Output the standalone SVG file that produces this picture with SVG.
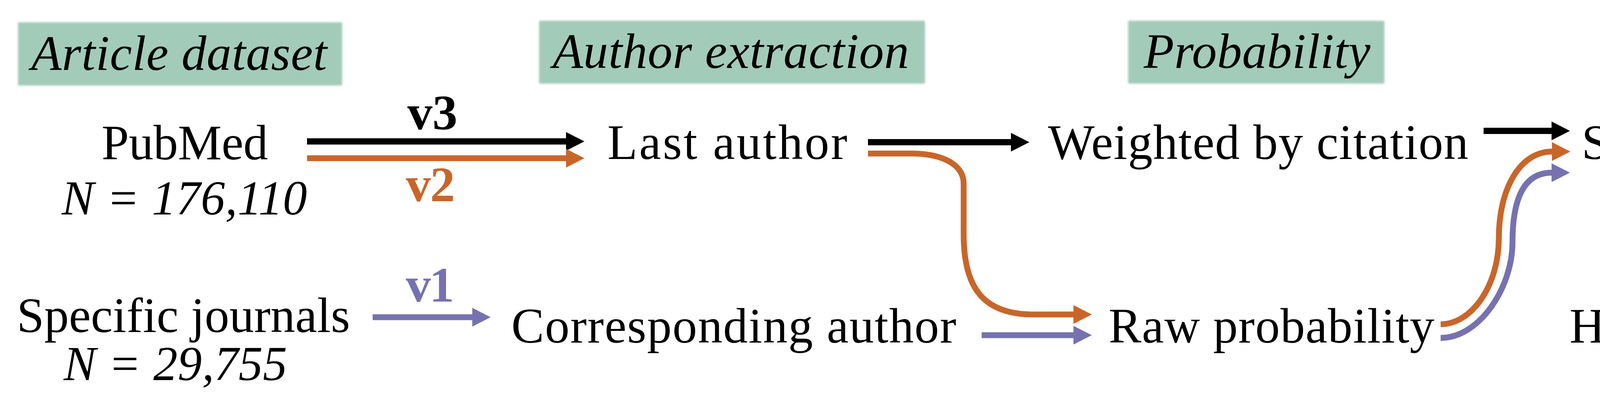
<svg xmlns="http://www.w3.org/2000/svg" width="4874" height="1070" viewBox="0 0 4874 1070">
<style>
.hdr{fill:#A3CBBA;filter:url(#soft)}
.ht{font-family:"Liberation Serif","Times New Roman",serif;font-style:italic;font-size:127px;fill:#000}
.t{font-family:"Liberation Serif","Times New Roman",serif;font-size:126px;fill:#000}
.n{font-family:"Liberation Serif","Times New Roman",serif;font-style:italic;font-size:124px;fill:#000}
.lb{font-family:"Liberation Serif","Times New Roman",serif;font-weight:bold;font-size:128px}
.k{fill:none;stroke:#000;stroke-width:16}
.o{fill:none;stroke:#C8662A;stroke-width:15}
.p{fill:none;stroke:#7672AF;stroke-width:15}
</style>
<defs>
<filter id="soft" x="-5%" y="-10%" width="110%" height="120%"><feGaussianBlur stdDeviation="2.5"/></filter>
<marker id="mk" markerUnits="userSpaceOnUse" viewBox="0 0 47 48" refX="0" refY="24" markerWidth="47" markerHeight="48" orient="auto"><polygon points="0,0 47,24 0,48" fill="#000"/></marker>
<marker id="mo" markerUnits="userSpaceOnUse" viewBox="0 0 47 48" refX="0" refY="24" markerWidth="47" markerHeight="48" orient="auto"><polygon points="0,0 47,24 0,48" fill="#C8662A"/></marker>
<marker id="mp" markerUnits="userSpaceOnUse" viewBox="0 0 47 48" refX="0" refY="24" markerWidth="47" markerHeight="48" orient="auto"><polygon points="0,0 47,24 0,48" fill="#7672AF"/></marker>
</defs>
<rect width="4874" height="1070" fill="#fff"/>

<g id="header-article-dataset"><rect class="hdr" x="46" y="57" width="830" height="162"/><text class="ht" x="80" y="179" textLength="757">Article dataset</text></g>
<g id="header-author-extraction"><rect class="hdr" x="1380" y="53" width="988" height="161"/><text class="ht" x="1415" y="174" textLength="912">Author extraction</text></g>
<g id="header-probability"><rect class="hdr" x="2888" y="53" width="656" height="161"/><text class="ht" x="2928" y="174" textLength="580">Probability</text></g>
<g id="header-prediction"><rect class="hdr" x="4102" y="53" width="609" height="161"/><text class="ht" x="4141" y="174" textLength="532">Prediction</text></g>

<g id="node-pubmed"><text class="t" x="260" y="408" textLength="426">PubMed</text><text class="n" x="158" y="549" textLength="628">N = 176,110</text></g>
<g id="node-specific-journals"><text class="t" x="43" y="850" textLength="853">Specific journals</text><text class="n" x="163" y="973" textLength="572">N = 29,755</text></g>
<g id="node-last-author"><text class="t" x="1555" y="407" textLength="614">Last author</text></g>
<g id="node-corresponding-author"><text class="t" x="1309" y="877" textLength="1139">Corresponding author</text></g>
<g id="node-weighted-by-citation"><text class="t" x="2683" y="407" textLength="1076">Weighted by citation</text></g>
<g id="node-raw-probability"><text class="t" x="2838" y="877" textLength="834">Raw probability</text></g>
<g id="node-soft-threshold"><text class="t" x="4049" y="407" textLength="732">Soft threshold</text></g>
<g id="node-hard-threshold"><text class="t" x="4018" y="877" textLength="796">Hard threshold</text></g>

<g id="connectors">
<path class="k" d="M786,362 H1449" marker-end="url(#mk)"/>
<path class="o" d="M786,405 H1449" marker-end="url(#mo)"/>
<path class="p" d="M954,812 H1209" marker-end="url(#mp)"/>
<path class="k" d="M2222,364 H2588" marker-end="url(#mk)"/>
<path class="o" d="M2222,393 L2340,393 C2420,395 2467,425 2467,470 L2467,600 C2467,740 2520,803 2640,805 L2748,805" marker-end="url(#mo)"/>
<path class="p" d="M2513,858 H2748" marker-end="url(#mp)"/>
<path class="k" d="M3798,335 H3972" marker-end="url(#mk)"/>
<path class="o" d="M3688,830 C3768,830 3837,730 3837,610 C3837,480 3893,388 3973,388" marker-end="url(#mo)"/>
<path class="p" d="M3688,865 C3788,865 3872,735 3872,620 C3872,490 3912,442 3972,442" marker-end="url(#mp)"/>
<text class="lb" x="1043" y="331" fill="#000" textLength="128">v3</text>
<text class="lb" x="1039" y="515" fill="#C8662A" textLength="126">v2</text>
<text class="lb" x="1039" y="772" fill="#7672AF" textLength="124">v1</text>
</g>
</svg>
